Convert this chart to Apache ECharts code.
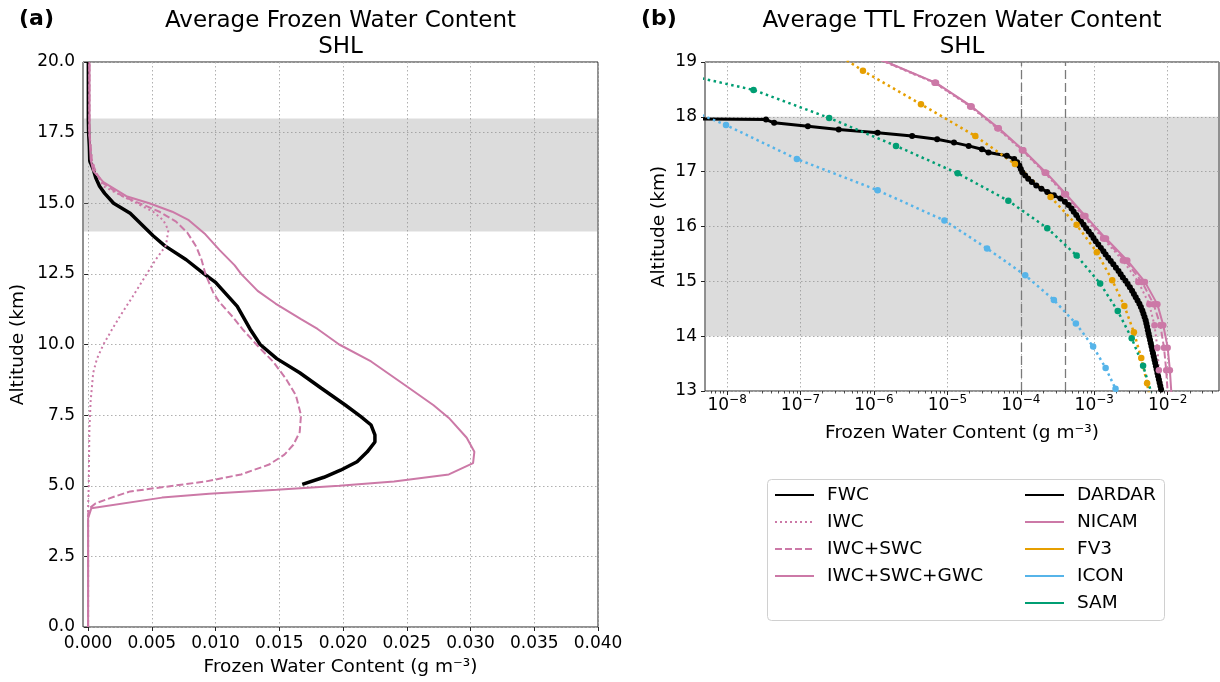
<!DOCTYPE html>
<html>
<head>
<meta charset="utf-8">
<title>Average Frozen Water Content - SHL</title>
<script src="https://cdn.jsdelivr.net/npm/echarts@6/dist/echarts.min.js"></script>
<style>
  html, body { margin: 0; padding: 0; background: #fff; }
  #main { width: 1220px; height: 682px; }
</style>
</head>
<body>
<div id="main"></div>
<script>
// ---- panel (a): profiles 0-20 km, value in g m-3 ----
var fwcAlt = [20.0, 18.0, 17.5, 17.0, 16.5, 16.2, 15.9, 15.6, 15.35, 15.0, 14.65, 14.25, 13.85, 13.5, 13.0, 12.5, 12.2, 11.65, 11.35, 10.55, 10.0, 9.5, 9.0, 8.45, 7.85, 7.45, 7.15, 6.8, 6.55, 6.2, 5.85, 5.55, 5.3, 5.05];
var fwcVal = [0.00002, 0.00002, 0.00004, 0.0001, 0.00013, 0.0004, 0.0006, 0.0009, 0.0013, 0.002, 0.0033, 0.0042, 0.0051, 0.006, 0.0077, 0.0091, 0.01, 0.0111, 0.0117, 0.0127, 0.0135, 0.0148, 0.0166, 0.0183, 0.0202, 0.0214, 0.0222, 0.0225, 0.0225, 0.0219, 0.0211, 0.0198, 0.0185, 0.0168];

var iwcAlt = [0.0, 4.2, 5.0, 7.0, 8.0, 9.0, 9.5, 10.0, 10.55, 11.0, 11.7, 12.5, 13.0, 13.5, 14.05, 14.4, 14.7, 15.0, 15.6, 16.0, 16.5, 17.5, 20.0];
var iwcVal = [0.0, 0.0, 0.00005, 0.0001, 0.0002, 0.0004, 0.0007, 0.0012, 0.0019, 0.0025, 0.0035, 0.0046, 0.0053, 0.0061, 0.0063, 0.0059, 0.0051, 0.0038, 0.0012, 0.0007, 0.0003, 0.0001, 0.0001];

var swcAlt = [0.0, 4.0, 4.2, 4.38, 4.62, 4.8, 5.0, 5.15, 5.4, 5.75, 6.1, 6.45, 6.9, 7.5, 8.2, 8.8, 9.4, 10.0, 10.55, 11.0, 11.5, 11.85, 12.5, 13.0, 13.45, 13.95, 14.35, 14.7, 14.95, 15.25, 15.7, 16.1, 16.5, 17.5, 20.0];
var swcVal = [0.0, 0.0, 0.0001, 0.0006, 0.0021, 0.0033, 0.0067, 0.0092, 0.012, 0.0142, 0.0154, 0.0161, 0.0166, 0.0167, 0.0163, 0.0155, 0.0145, 0.0132, 0.0121, 0.0113, 0.0103, 0.0098, 0.0092, 0.0089, 0.0085, 0.0078, 0.0069, 0.0056, 0.0043, 0.0027, 0.0012, 0.0006, 0.0003, 0.0001, 0.0001];

var gwcAlt = [0.0, 3.85, 4.2, 4.58, 4.72, 4.86, 5.0, 5.15, 5.4, 5.8, 6.2, 6.7, 7.4, 7.85, 8.55, 9.4, 10.0, 10.55, 10.9, 11.45, 11.9, 12.5, 12.8, 13.35, 13.9, 14.4, 14.7, 15.0, 15.25, 15.75, 16.15, 16.55, 17.5, 20.0];
var gwcVal = [0.0, 0.0, 0.00025, 0.0058, 0.0095, 0.0148, 0.0197, 0.024, 0.0283, 0.0302, 0.0303, 0.0297, 0.0283, 0.0271, 0.0249, 0.0222, 0.0197, 0.018, 0.0167, 0.0147, 0.0133, 0.012, 0.0115, 0.0103, 0.0092, 0.0079, 0.0066, 0.0048, 0.003, 0.0012, 0.0004, 0.0002, 0.0001, 0.0001];

var aTicks = [0, 0.005, 0.01, 0.015, 0.02, 0.025, 0.03, 0.035, 0.04];

// ---- panel (b): TTL profiles, values stored as log10(g m-3) ----
var dardarAlt = [18.01, 17.95, 17.89, 17.83, 17.77, 17.71, 17.65, 17.59, 17.53, 17.47, 17.41, 17.35, 17.29, 17.23, 17.17, 17.11, 17.05,
  16.99, 16.93, 16.87, 16.81, 16.75, 16.69, 16.63, 16.57, 16.51, 16.45, 16.39, 16.33, 16.27, 16.21, 16.15, 16.09, 16.03,
  15.97, 15.91, 15.85, 15.79, 15.73, 15.67, 15.61, 15.55, 15.49, 15.43, 15.37, 15.31, 15.25, 15.19, 15.13, 15.07, 15.01,
  14.95, 14.89, 14.83, 14.77, 14.71, 14.65, 14.59, 14.53, 14.47, 14.41, 14.35, 14.29, 14.23, 14.17, 14.11, 14.05,
  13.99, 13.93, 13.87, 13.81, 13.75, 13.69, 13.63, 13.57, 13.51, 13.45, 13.39, 13.33, 13.27, 13.21, 13.15, 13.09, 13.03, 12.97];
var dardarLog = [-12, -7.47, -7.36, -6.90, -6.48, -5.95, -5.48, -5.14, -4.91, -4.71, -4.53, -4.44, -4.19, -4.09, -4.05, -4.02, -4.00,
  -3.98, -3.94, -3.90, -3.85, -3.79, -3.72, -3.64, -3.55, -3.46, -3.40, -3.35, -3.31, -3.28, -3.245, -3.21, -3.18, -3.145,
  -3.11, -3.075, -3.04, -3.01, -2.98, -2.945, -2.91, -2.875, -2.845, -2.81, -2.775, -2.74, -2.705, -2.67, -2.64, -2.61, -2.575,
  -2.545, -2.515, -2.485, -2.46, -2.435, -2.41, -2.385, -2.365, -2.345, -2.33, -2.315, -2.30, -2.29, -2.28, -2.27, -2.26,
  -2.25, -2.24, -2.23, -2.22, -2.21, -2.20, -2.19, -2.18, -2.17, -2.16, -2.15, -2.14, -2.13, -2.12, -2.11, -2.10, -2.09, -2.08];

var nicamAlt = [19.03, 18.62, 18.19, 17.79, 17.39, 16.98, 16.59, 16.19, 15.78, 15.38, 14.99, 14.58, 14.20, 13.79, 13.38, 12.97];
var nicamGwcLog = [-5.88, -5.155, -4.67, -4.30, -3.965, -3.655, -3.385, -3.12, -2.84, -2.55, -2.31, -2.14, -2.06, -2.00, -1.97, -1.95];
var nicamSwcLog = [-5.89, -5.165, -4.68, -4.31, -3.975, -3.665, -3.395, -3.135, -2.86, -2.58, -2.35, -2.19, -2.10, -2.05, -2.02, -2.00];
var nicamIwcLog = [-5.90, -5.175, -4.69, -4.32, -3.985, -3.675, -3.41, -3.15, -2.88, -2.61, -2.40, -2.25, -2.18, -2.14, -2.12, -2.10];

var fv3Alt = [19.45, 18.84, 18.23, 17.65, 17.14, 16.54, 16.03, 15.53, 15.02, 14.55, 14.07, 13.60, 13.14, 12.66];
var fv3Log = [-6.85, -6.15, -5.36, -4.62, -4.08, -3.595, -3.24, -2.965, -2.755, -2.59, -2.46, -2.36, -2.28, -2.22];

var iconAlt = [18.45, 17.85, 17.23, 16.66, 16.11, 15.60, 15.11, 14.66, 14.23, 13.81, 13.42, 13.04, 12.65];
var iconLog = [-9.1, -8.015, -7.05, -5.95, -5.04, -4.46, -3.94, -3.55, -3.25, -3.015, -2.845, -2.71, -2.6];

var samAlt = [18.99, 18.49, 17.98, 17.47, 16.97, 16.47, 15.97, 15.47, 14.96, 14.46, 13.96, 13.46, 12.96];
var samLog = [-9.3, -7.64, -6.61, -5.70, -4.86, -4.17, -3.64, -3.24, -2.92, -2.68, -2.49, -2.335, -2.22];

var bTicks = [1e-8, 1e-7, 1e-6, 1e-5, 1e-4, 1e-3, 1e-2];
var minorMult = [2, 3, 4, 5, 6, 7, 8, 9];
var minorDecades = [-9, -8, -7, -6, -5, -4, -3, -2];

var ttlBand = [14, 18];          // shaded TTL layer (km)
var refLines = [1e-4, 4e-4];     // dashed reference values

// ---- helpers ----
var FONT = 'DejaVu Sans';
var BLACK = '#000000', PINK = '#CC79A7', ORANGE = '#E69F00', SKY = '#56B4E9', GREEN = '#009E73';

function pairs(xs, ys) {
  return xs.map(function (x, i) { return [x, ys[i]]; });
}
function logPairs(logs, ys) {
  return logs.map(function (l, i) { return [Math.pow(10, l), ys[i]]; });
}

var bMinor = [];
minorDecades.forEach(function (d) {
  minorMult.forEach(function (m) {
    var v = m * Math.pow(10, d);
    if (v > 5e-9 && v < 5e-2) bMinor.push(v);
  });
});

var gridLine = { show: true, lineStyle: { color: '#b0b0b0', width: 1, type: [1.5, 2.5] } };
var tickStyle = { show: true, length: 4, lineStyle: { color: '#222', width: 1 } };
var band = { silent: true, itemStyle: { color: 'rgba(140,140,140,0.3)' },
  data: [[{ yAxis: ttlBand[0] }, { yAxis: ttlBand[1] }]] };

var chart = echarts.init(document.getElementById('main'), null, { renderer: 'canvas' });

var option = {
  animation: false,
  backgroundColor: '#ffffff',
  textStyle: { fontFamily: FONT, color: '#000' },
  title: [
    { text: '(a)', left: 19, top: 8, padding: 0, textStyle: { fontFamily: FONT, fontSize: 22, fontWeight: 'bold', color: '#000' } },
    { text: 'Average Frozen Water Content\nSHL', left: 340.5, top: 8, padding: 0, textAlign: 'center',
      textStyle: { fontFamily: FONT, fontSize: 23, lineHeight: 26, fontWeight: 'normal', color: '#000' } },
    { text: '(b)', left: 641, top: 8, padding: 0, textStyle: { fontFamily: FONT, fontSize: 22, fontWeight: 'bold', color: '#000' } },
    { text: 'Average TTL Frozen Water Content\nSHL', left: 962, top: 8, padding: 0, textAlign: 'center',
      textStyle: { fontFamily: FONT, fontSize: 23, lineHeight: 26, fontWeight: 'normal', color: '#000' } }
  ],
  grid: [
    { left: 83, top: 62, width: 515, height: 567, show: true, borderColor: '#222', borderWidth: 1, backgroundColor: 'transparent' },
    { left: 705, top: 62, width: 514, height: 329, show: true, borderColor: '#222', borderWidth: 1, backgroundColor: 'transparent' },
    { left: 705, top: 62, width: 514, height: 329, show: false }
  ],
  xAxis: [
    {
      type: 'value', gridIndex: 0, min: -0.0004, max: 0.04,
      axisLine: { show: false },
      axisTick: Object.assign({ customValues: aTicks }, tickStyle),
      axisLabel: { customValues: aTicks, fontSize: 17, color: '#000', margin: 8,
        formatter: function (v) { return v.toFixed(3); } },
      splitLine: gridLine,
      name: 'Frozen Water Content (g m\u207B\u00B3)', nameLocation: 'middle', nameGap: 31,
      nameTextStyle: { fontSize: 18.5, color: '#000' }
    },
    {
      type: 'log', logBase: 10, gridIndex: 1, min: 5e-9, max: 5e-2,
      axisLine: { show: false },
      axisTick: Object.assign({ customValues: bTicks }, tickStyle),
      axisLabel: {
        customValues: bTicks, margin: 3, color: '#000',
        formatter: function (v) {
          return '{b|10}{s|\u2212' + (-Math.round(Math.log10(v))) + '}';
        },
        rich: {
          b: { fontSize: 17, lineHeight: 20, padding: [2, 0, 0, 0], verticalAlign: 'bottom', color: '#000' },
          s: { fontSize: 12, lineHeight: 14, verticalAlign: 'top', color: '#000' }
        }
      },
      splitLine: gridLine,
      name: 'Frozen Water Content (g m\u207B\u00B3)', nameLocation: 'middle', nameGap: 33,
      nameTextStyle: { fontSize: 18.5, color: '#000' }
    },
    {
      type: 'log', logBase: 10, gridIndex: 2, min: 5e-9, max: 5e-2,
      axisLine: { show: false },
      axisTick: { show: true, length: 2.5, customValues: bMinor, lineStyle: { color: '#222', width: 0.8 } },
      axisLabel: { show: false },
      splitLine: { show: false }
    }
  ],
  yAxis: [
    {
      type: 'value', gridIndex: 0, min: 0, max: 20, interval: 2.5,
      axisLine: { show: false },
      axisTick: tickStyle,
      axisLabel: { fontSize: 17, color: '#000', margin: 8, formatter: function (v) { return v.toFixed(1); } },
      splitLine: gridLine,
      name: 'Altitude (km)', nameLocation: 'middle', nameGap: 55,
      nameTextStyle: { fontSize: 18.5, color: '#000' }
    },
    {
      type: 'value', gridIndex: 1, min: 13, max: 19, interval: 1,
      axisLine: { show: false },
      axisTick: tickStyle,
      axisLabel: { fontSize: 17, color: '#000', margin: 8 },
      splitLine: gridLine,
      name: 'Altitude (km)', nameLocation: 'middle', nameGap: 36,
      nameTextStyle: { fontSize: 18.5, color: '#000' }
    },
    { type: 'value', gridIndex: 2, min: 0, max: 1, show: false }
  ],
  legend: [
    {
      data: ['FWC', 'IWC', 'IWC+SWC', 'IWC+SWC+GWC'],
      orient: 'vertical', left: 774, top: 485, padding: 0,
      itemWidth: 39, itemHeight: 14, itemGap: 7, selectedMode: false,
      itemStyle: { opacity: 0 }, lineStyle: { width: 2 },
      textStyle: { fontFamily: FONT, fontSize: 18.5, lineHeight: 20, color: '#000', padding: [0, 0, 0, 8] }
    },
    {
      data: ['DARDAR', 'NICAM', 'FV3', 'ICON', 'SAM'],
      orient: 'vertical', left: 1024, top: 485, padding: 0,
      itemWidth: 39, itemHeight: 14, itemGap: 7, selectedMode: false,
      itemStyle: { opacity: 0 }, lineStyle: { width: 2, type: 'solid' },
      textStyle: { fontFamily: FONT, fontSize: 18.5, lineHeight: 20, color: '#000', padding: [0, 0, 0, 8] }
    }
  ],
  graphic: [
    { type: 'rect', left: 767, top: 479, z: -1, silent: true,
      shape: { width: 397, height: 141, r: 4 },
      style: { fill: '#ffffff', stroke: '#d0d0d0', lineWidth: 1 } }
  ],
  series: [
    { name: 'FWC', type: 'line', xAxisIndex: 0, yAxisIndex: 0, data: pairs(fwcVal, fwcAlt),
      symbol: 'none', lineStyle: { color: BLACK, width: 3.5 }, itemStyle: { color: BLACK }, z: 3,
      markArea: band },
    { name: 'IWC', type: 'line', xAxisIndex: 0, yAxisIndex: 0, data: pairs(iwcVal, iwcAlt),
      symbol: 'none', lineStyle: { color: PINK, width: 2, type: [2, 3] }, itemStyle: { color: PINK }, z: 3 },
    { name: 'IWC+SWC', type: 'line', xAxisIndex: 0, yAxisIndex: 0, data: pairs(swcVal, swcAlt),
      symbol: 'none', lineStyle: { color: PINK, width: 2, type: [7, 3] }, itemStyle: { color: PINK }, z: 3 },
    { name: 'IWC+SWC+GWC', type: 'line', xAxisIndex: 0, yAxisIndex: 0, data: pairs(gwcVal, gwcAlt),
      symbol: 'none', lineStyle: { color: PINK, width: 2 }, itemStyle: { color: PINK }, z: 3 },

    { name: 'DARDAR', type: 'line', xAxisIndex: 1, yAxisIndex: 1, data: logPairs(dardarLog, dardarAlt),
      symbol: 'circle', symbolSize: 6, lineStyle: { color: BLACK, width: 3 }, itemStyle: { color: BLACK }, z: 3,
      markArea: band,
      markLine: { silent: true, z: 2, precision: 10, symbol: ['none', 'none'], label: { show: false },
        lineStyle: { color: '#7a7a7a', width: 1.3, type: [9, 4] },
        data: refLines.map(function (v) { return { xAxis: v }; }) } },
    { name: 'NICAM', type: 'line', xAxisIndex: 1, yAxisIndex: 1, data: logPairs(nicamGwcLog, nicamAlt),
      symbol: 'circle', symbolSize: 6.5, lineStyle: { color: PINK, width: 2 }, itemStyle: { color: PINK }, z: 3 },
    { name: 'NICAM IWC+SWC', type: 'line', xAxisIndex: 1, yAxisIndex: 1, data: logPairs(nicamSwcLog, nicamAlt),
      symbol: 'circle', symbolSize: 6.5, lineStyle: { color: PINK, width: 2, type: [7, 3] }, itemStyle: { color: PINK }, z: 3 },
    { name: 'NICAM IWC', type: 'line', xAxisIndex: 1, yAxisIndex: 1, data: logPairs(nicamIwcLog, nicamAlt),
      symbol: 'circle', symbolSize: 6.5, lineStyle: { color: PINK, width: 2, type: [2, 3] }, itemStyle: { color: PINK }, z: 3 },
    { name: 'FV3', type: 'line', xAxisIndex: 1, yAxisIndex: 1, data: logPairs(fv3Log, fv3Alt),
      symbol: 'circle', symbolSize: 6.5, lineStyle: { color: ORANGE, width: 2.5, type: [2.5, 3.5] }, itemStyle: { color: ORANGE }, z: 3 },
    { name: 'ICON', type: 'line', xAxisIndex: 1, yAxisIndex: 1, data: logPairs(iconLog, iconAlt),
      symbol: 'circle', symbolSize: 6.5, lineStyle: { color: SKY, width: 2.5, type: [2.5, 3.5] }, itemStyle: { color: SKY }, z: 3 },
    { name: 'SAM', type: 'line', xAxisIndex: 1, yAxisIndex: 1, data: logPairs(samLog, samAlt),
      symbol: 'circle', symbolSize: 6.5, lineStyle: { color: GREEN, width: 2.5, type: [2.5, 3.5] }, itemStyle: { color: GREEN }, z: 3 }
  ]
};

chart.setOption(option);
</script>
</body>
</html>
